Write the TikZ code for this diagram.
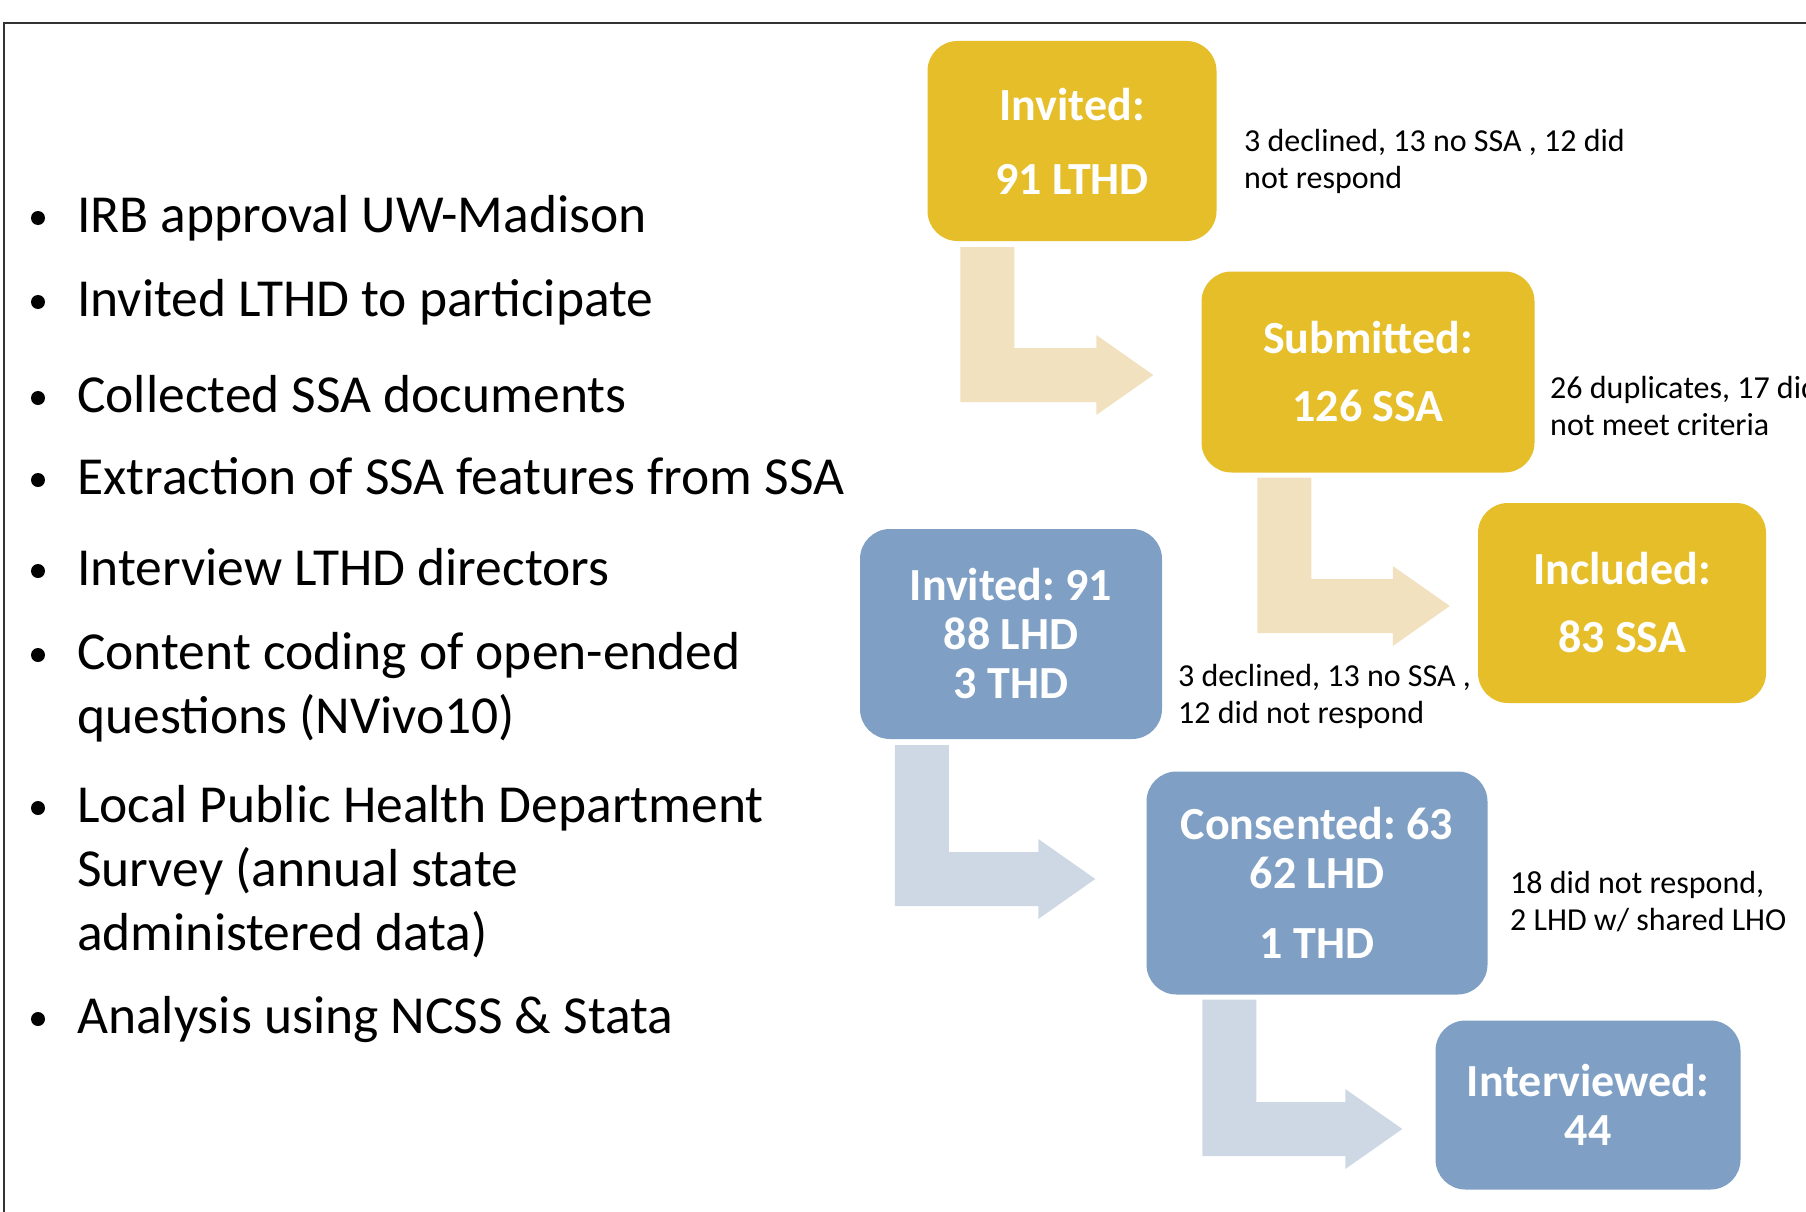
\documentclass[tikz,border=0pt]{standalone}
\usepackage{fontspec}
\setmainfont{Carlito}
\usetikzlibrary{calc}
\frenchspacing

\definecolor{ssagold}{RGB}{229,190,42}
\definecolor{ssagoldlight}{RGB}{242,225,191}
\definecolor{lhdblue}{RGB}{127,159,196}
\definecolor{lhdbluelight}{RGB}{206,216,228}

\tikzset{
  stagebox/.style={rounded corners=30pt, text=white, align=center, inner sep=0pt,
    font=\bfseries\fontsize{46}{49}\selectfont},
  goldbox/.style={stagebox, fill=ssagold},
  bluebox/.style={stagebox, fill=lhdblue},
  dropnote/.style={font=\fontsize{32}{37}\selectfont, align=left, anchor=base west, inner sep=0pt},
  bullettext/.style={font=\fontsize{53.5}{64}\selectfont, align=left, anchor=base west, inner sep=0pt}
}

% bent block arrow: colour, top of the shaft, tip
\newcommand{\bentarrow}[3]{%
  \fill[#1] let \p1=#2, \p2=#3 in
    (\x1-27pt,\y1) -- (\x1+27pt,\y1) -- (\x1+27pt,\y2+27pt) -- (\x2-57pt,\y2+27pt)
    -- (\x2-57pt,\y2+40pt) -- (\x2,\y2) -- (\x2-57pt,\y2-40pt) -- (\x2-57pt,\y2-27pt)
    -- (\x1-27pt,\y2-27pt) -- cycle;}

\begin{document}
\begin{tikzpicture}[x=1pt,y=-1pt]
  \useasboundingbox (0,0) rectangle (1806,1212);
  \clip (0,0) rectangle (1806,1212);
  \draw[line width=2pt, black!80] (4,1240) -- (4,23) -- (1830,23);

  % method steps (node base = baseline of the last line)
  \foreach \ybase/\nlines/\txt [count=\i] in {232/1/{IRB approval UW-Madison},
      316/1/{Invited LTHD to participate}, 412/1/{Collected SSA documents},
      494/1/{Extraction of SSA features from SSA}, 585/1/{Interview LTHD directors},
      669/2/{Content coding of open-ended\\questions (NVivo10)},
      822/3/{Local Public Health Department\\Survey (annual state\\administered data)},
      1033/1/{Analysis using NCSS \& Stata}}{
    \fill (38,\ybase-14) circle (7pt);
    \node[bullettext] (item\i) at (77,\ybase+64*\nlines-64) {\txt};}

  % SSA flow
  \node[goldbox, minimum width=289pt, minimum height=200pt] (inv1) at (1072,141) {Invited:\\[25pt]91 LTHD};
  \node[goldbox, minimum width=333pt, minimum height=201pt] (sub) at (1368,372) {Submitted:\\[19pt]126 SSA};
  \node[goldbox, minimum width=288pt, minimum height=200pt] (incl) at (1622,603) {Included:\\[19pt]83 SSA};
  \node[dropnote] (note1) at (1244,188) {3 declined, 13 no SSA , 12 did\\not respond};
  \node[dropnote] (note2) at (1550,435) {26 duplicates, 17 did\\not meet criteria};
  \bentarrow{ssagoldlight}{($(inv1.south west)+(60,6)$)}{($(sub.west)+(-48,3)$)}
  \bentarrow{ssagoldlight}{($(sub.south west)+(83,5)$)}{($(incl.west)+(-28,3)$)}

  % interview flow
  \node[bluebox, minimum width=302pt, minimum height=210pt] (inv2) at (1011,634) {Invited: 91\\88 LHD\\3 THD};
  \node[bluebox, minimum width=341pt, minimum height=223pt] (cons) at (1317,883) {Consented: 63\\62 LHD\\[21pt]1 THD};
  \node[bluebox, minimum width=305pt, minimum height=169pt] (intv) at (1588,1105) {Interviewed:\\44};
  \node[dropnote] (note3) at (1178,723) {3 declined, 13 no SSA ,\\12 did not respond};
  \node[dropnote] (note4) at (1510,930) {18 did not respond,\\2 LHD w/ shared LHO};
  \bentarrow{lhdbluelight}{($(inv2.south west)+(62,6)$)}{($(cons.west)+(-51,-4)$)}
  \bentarrow{lhdbluelight}{($(cons.south west)+(83,5)$)}{($(intv.west)+(-33,24)$)}
\end{tikzpicture}
\end{document}
